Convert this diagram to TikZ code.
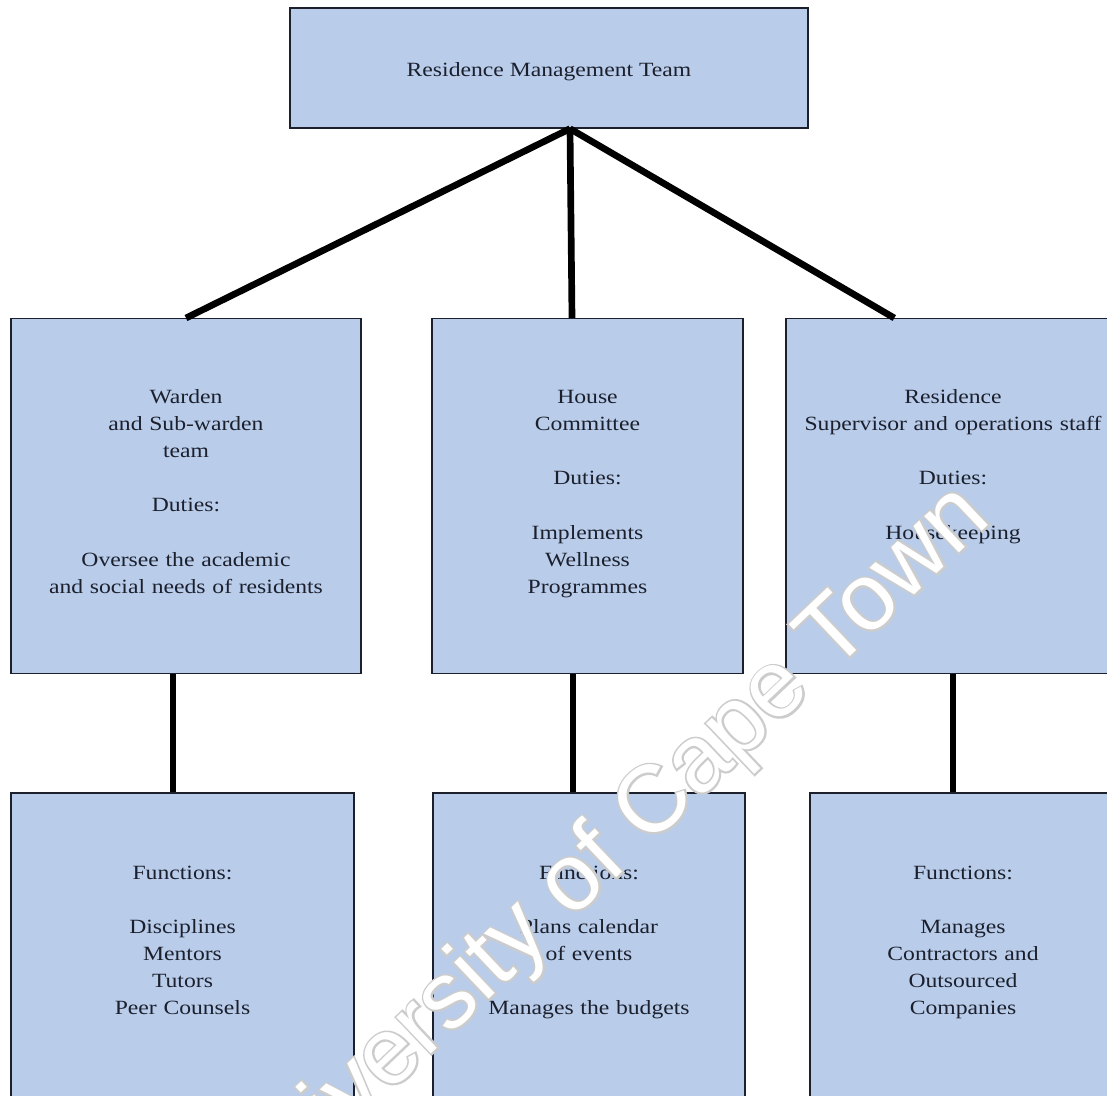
\documentclass[tikz,border=0pt]{standalone}
\usepackage{fontspec}
\setmainfont{Liberation Serif}[FakeStretch=1.17]
\newfontfamily\markfont{Liberation Sans}
\newfontfamily\markrim{Liberation Sans}[FakeBold=4]
\usepackage{tikz}
\usetikzlibrary{positioning}
\definecolor{boxblue}{RGB}{185,205,235}
\definecolor{inkdark}{RGB}{28,32,45}
\newcommand{\gap}{15.4pt}

\begin{document}
\begin{tikzpicture}[unit/.style={draw=inkdark, line width=0.8pt, fill=boxblue, text=inkdark, rectangle, inner xsep=0pt, inner ysep=0pt},
				dutybox/.style={unit, text height=1.7cm, text depth=5.4cm},
				funcbox/.style={unit, text height=1.72cm, text depth=5cm},
				link/.style={draw=black, line width=3.8pt},
				wmark/.style={rotate=43.5, font=#1\fontsize{54}{60}\selectfont},
				font=\fontsize{11.5}{15.4}\selectfont,
				every text node part/.style={align=center}]
				\clip (0,0) rectangle (22.14,-21.9);
				
				\node[unit, minimum width=10.36cm, minimum height=2.4cm, text height=0.44cm, text depth=0.1cm](rmt) at (10.98, -1.36) {Residence Management Team};
				
				\node[dutybox, text width=7cm, anchor=north](warden) at (3.72, -6.36) {Warden\\and Sub-warden\\team\\[\gap]Duties:\\[\gap]Oversee the academic\\and social needs of residents};
				\node[dutybox, text width=6.22cm, anchor=north](house) at (11.75, -6.36) {House\\Committee\\[\gap]Duties:\\[\gap]Implements\\Wellness\\Programmes};
				\node[dutybox, text width=6.68cm, anchor=north](staff) at (19.06, -6.36) {Residence\\Supervisor and operations staff\\[\gap]Duties:\\[\gap]Housekeeping};
				
				\node[funcbox, text width=6.86cm, below=2.36cm of warden, xshift=-0.07cm](wardenfn) {Functions:\\[\gap]Disciplines\\Mentors\\Tutors\\Peer Counsels};
				\node[funcbox, text width=6.24cm, below=2.36cm of house, xshift=0.03cm](housefn) {Functions:\\[\gap]Plans calendar\\of events\\[\gap]Manages the budgets};
				\node[funcbox, text width=6.12cm, below=2.36cm of staff, xshift=0.2cm](stafffn) {Functions:\\[\gap]Manages\\Contractors and\\Outsourced\\Companies};
				
				\draw[link] ([xshift=0.42cm]rmt.south) -- (warden.north);
				\draw[link] ([xshift=0.42cm]rmt.south) -- ([xshift=-0.31cm]house.north);
				\draw[link] ([xshift=0.42cm]rmt.south) -- ([xshift=2.18cm]staff.north west);
				
				\draw[link] ([xshift=-0.26cm]warden.south) -- ([xshift=-0.26cm]warden.south |- wardenfn.north);
				\draw[link] ([xshift=-0.29cm]house.south) -- ([xshift=-0.29cm]house.south |- housefn.north);
				\draw[link] (staff.south) -- (staff.south |- stafffn.north);
				
				% watermark: grey rim under white letters
				\node[wmark=\markrim, text=gray!40](markrim) at (12.1, -17.1) {University of Cape Town};
				\node[wmark=\markfont, text=white](mark) at (markrim) {University of Cape Town};
			\end{tikzpicture}
\end{document}
